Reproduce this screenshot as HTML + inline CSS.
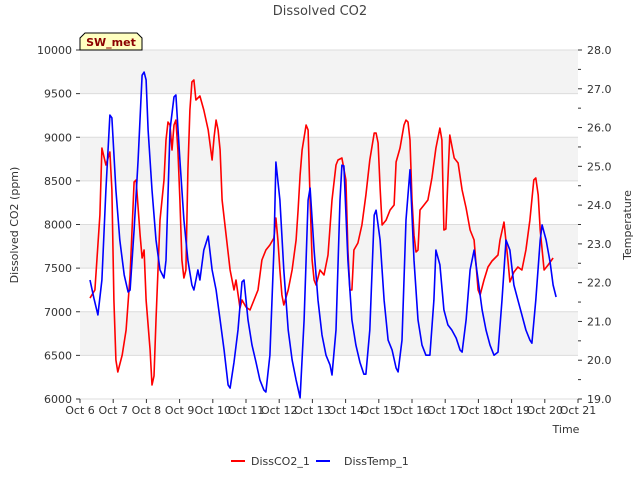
<!DOCTYPE html>
<html><head><meta charset="utf-8"><style>
body{margin:0;background:#fff;font-family:"Liberation Sans","DejaVu Sans",sans-serif}
svg text{font-family:"DejaVu Sans","Liberation Sans",sans-serif}
</style></head><body>
<svg id="chart" width="640" height="480" xmlns="http://www.w3.org/2000/svg">
<rect width="640" height="480" fill="#fff"/>
<g id="bands"></g>
<g id="axes"></g>
<g id="series"></g>
<text x="320" y="15" text-anchor="middle" font-size="13" fill="#444">Dissolved CO2</text>
<text transform="translate(18,225) rotate(-90)" text-anchor="middle" font-size="11" fill="#333">Dissolved CO2 (ppm)</text>
<text transform="translate(631,225) rotate(-90)" text-anchor="middle" font-size="11" fill="#333">Temperature</text>
<text x="566" y="433" text-anchor="middle" font-size="11" fill="#333">Time</text>
<g>
<path d="M80,50 L80,38 L85,33 L137,33 L142,38 L142,50 Z" fill="#ffffc0" stroke="#000" stroke-width="1"/>
<text x="111" y="46" text-anchor="middle" font-size="11" font-weight="bold" fill="#8b0000">SW_met</text>
</g>
<g>
<g><line x1="231" y1="461" x2="245" y2="461" stroke="#f00" stroke-width="2"/><text x="251" y="465" font-size="11" fill="#333">DissCO2_1</text></g>
<g><line x1="316" y1="461" x2="330" y2="461" stroke="#00f" stroke-width="2"/><text x="344" y="465" font-size="11" fill="#333">DissTemp_1</text></g>
</g>
</svg>
<script>
const xTickLabels=["Oct 6","Oct 7","Oct 8","Oct 9","Oct 10","Oct 11","Oct 12","Oct 13","Oct 14","Oct 15","Oct 16","Oct 17","Oct 18","Oct 19","Oct 20","Oct 21"];
const yTicks=[6000,6500,7000,7500,8000,8500,9000,9500,10000];
const y2Ticks=[19,20,21,22,23,24,25,26,27,28];
const co2Days=[0.30,0.45,0.60,0.66,0.78,0.90,0.96,1.02,1.08,1.14,1.27,1.39,1.51,1.63,1.69,1.81,1.87,1.93,1.99,2.11,2.17,2.23,2.29,2.41,2.53,2.59,2.65,2.71,2.77,2.83,2.89,2.95,3.01,3.07,3.13,3.19,3.25,3.31,3.37,3.43,3.49,3.61,3.73,3.86,3.98,4.04,4.10,4.16,4.22,4.28,4.40,4.52,4.64,4.70,4.82,4.88,5.00,5.12,5.24,5.36,5.48,5.60,5.72,5.84,5.90,5.96,6.02,6.08,6.14,6.27,6.39,6.51,6.57,6.63,6.69,6.81,6.87,6.93,6.99,7.05,7.11,7.23,7.35,7.47,7.59,7.71,7.77,7.89,8.01,8.07,8.13,8.19,8.25,8.37,8.49,8.61,8.73,8.86,8.92,8.98,9.04,9.10,9.22,9.34,9.46,9.52,9.64,9.76,9.82,9.88,9.94,10.00,10.06,10.12,10.18,10.24,10.36,10.48,10.60,10.72,10.84,10.90,10.96,11.02,11.08,11.14,11.27,11.39,11.51,11.63,11.75,11.87,11.99,12.05,12.17,12.29,12.41,12.53,12.59,12.65,12.77,12.89,12.95,13.07,13.19,13.31,13.43,13.55,13.67,13.73,13.80,13.86,13.98,14.10,14.25];
const co2Values=[7157,7249,8109,8876,8682,8831,8395,7135,6447,6309,6504,6791,7421,8487,8510,7879,7616,7708,7135,6562,6160,6264,6905,8051,8510,8968,9174,9140,8854,9140,9197,8854,8281,7593,7387,7478,8624,9312,9633,9656,9427,9473,9312,9083,8739,9003,9197,9083,8854,8281,7879,7478,7249,7364,7043,7135,7054,7020,7135,7249,7593,7708,7765,7845,8074,7822,7478,7192,7077,7249,7478,7822,8166,8567,8854,9140,9083,8281,7593,7364,7306,7478,7421,7650,8281,8682,8739,8762,8510,7708,7249,7249,7708,7788,7994,8338,8739,9048,9048,8934,8418,7994,8051,8166,8223,8716,8876,9140,9197,9174,8968,8281,7879,7685,7708,8166,8223,8281,8533,8876,9105,8968,7937,7948,8521,9025,8762,8705,8395,8189,7937,7822,7249,7192,7364,7513,7582,7627,7650,7822,8028,7593,7341,7455,7513,7478,7708,8051,8510,8533,8338,7937,7478,7536,7616];
const tempDays=[0.30,0.42,0.54,0.66,0.78,0.90,0.96,1.08,1.20,1.33,1.45,1.51,1.63,1.75,1.87,1.93,1.99,2.05,2.17,2.29,2.41,2.53,2.59,2.71,2.83,2.89,3.01,3.13,3.25,3.37,3.43,3.55,3.61,3.73,3.86,3.98,4.10,4.22,4.34,4.46,4.52,4.64,4.76,4.88,4.94,5.06,5.18,5.30,5.42,5.54,5.60,5.72,5.84,5.90,6.02,6.14,6.27,6.39,6.51,6.63,6.75,6.87,6.93,7.05,7.17,7.29,7.41,7.53,7.59,7.71,7.83,7.89,7.95,8.07,8.19,8.31,8.43,8.55,8.61,8.73,8.86,8.92,9.04,9.16,9.28,9.40,9.52,9.58,9.70,9.82,9.94,10.06,10.18,10.30,10.42,10.54,10.66,10.72,10.84,10.96,11.08,11.20,11.33,11.45,11.51,11.63,11.75,11.87,11.99,12.11,12.23,12.35,12.47,12.59,12.71,12.83,12.95,13.07,13.19,13.31,13.43,13.55,13.61,13.73,13.86,13.92,14.04,14.16,14.25,14.34];
const tempValues=[22.07,21.60,21.17,22.07,24.39,26.32,26.25,24.39,23.10,22.20,21.76,21.81,23.36,25.16,27.35,27.43,27.23,25.94,24.39,23.10,22.33,22.12,22.58,25.94,26.79,26.84,25.16,23.62,22.58,21.94,21.81,22.33,22.07,22.84,23.20,22.33,21.81,21.04,20.26,19.36,19.28,19.95,20.78,22.02,22.07,21.04,20.39,19.95,19.49,19.23,19.18,20.13,22.84,25.11,24.13,22.33,20.78,20.01,19.49,19.03,21.04,24.13,24.44,22.84,21.55,20.65,20.13,19.88,19.62,20.78,24.13,25.03,25.01,22.58,21.04,20.39,19.95,19.64,19.64,20.78,23.74,23.87,23.10,21.55,20.52,20.26,19.80,19.70,20.52,23.62,24.91,22.58,21.04,20.39,20.13,20.13,21.55,22.84,22.46,21.30,20.91,20.78,20.57,20.26,20.21,21.04,22.33,22.84,22.07,21.30,20.78,20.39,20.13,20.21,21.55,23.10,22.84,21.94,21.55,21.17,20.78,20.52,20.44,21.55,23.10,23.49,23.10,22.53,21.94,21.63];

const L=80,R=578,T=50,B=399;
const xS=d=>L+d*(R-L)/15;
const yS=v=>B-(v-6000)*(B-T)/4000;
const y2S=v=>B-(v-19)*(B-T)/9;
const NS="http://www.w3.org/2000/svg";
function mk(tag,attrs,parent){const e=document.createElementNS(NS,tag);for(const k in attrs)e.setAttribute(k,attrs[k]);parent.appendChild(e);return e;}
const bands=document.getElementById('bands'),axes=document.getElementById('axes'),series=document.getElementById('series');
mk('rect',{x:L,y:T,width:R-L,height:B-T,fill:'#fff'},bands);
for(let i=0;i<yTicks.length-1;i++){
  if(i%2===1){const r=mk('rect',{x:L,y:yS(yTicks[i+1]),width:R-L,height:yS(yTicks[i])-yS(yTicks[i+1]),fill:'#f3f3f3'},bands);
  
  }
}
yTicks.forEach(v=>{
  const g=mk('line',{x1:L,x2:R,y1:yS(v),y2:yS(v),stroke:'#dcdcdc','stroke-width':1},bands);
  
  
  mk('line',{x1:L-4,x2:L,y1:yS(v),y2:yS(v),stroke:'#333'},axes);
  const t=mk('text',{x:L-8,y:yS(v)+4,'text-anchor':'end','font-size':11,fill:'#333'},axes);
  
  
  t.textContent=v;
});
y2Ticks.forEach(v=>{
  mk('line',{x1:R,x2:R+4,y1:y2S(v),y2:y2S(v),stroke:'#333'},axes);
  if(v<28)mk('line',{x1:R,x2:R+3,y1:y2S(v+0.5),y2:y2S(v+0.5),stroke:'#333'},axes);
  const t=mk('text',{x:R+9,y:y2S(v)+4,'font-size':11,fill:'#333'},axes);
  
  
  t.textContent=v.toFixed(1);
});
xTickLabels.forEach((s,i)=>{
  mk('line',{x1:xS(i),x2:xS(i),y1:B,y2:B+4,stroke:'#333'},axes);
  const t=mk('text',{x:xS(i),y:B+15,'text-anchor':'middle','font-size':11,fill:'#333'},axes);
  
  
  t.textContent=s;
});
function line(days,vals,sc,color,name){
  const d=days.map((x,i)=>(i?'L':'M')+xS(x).toFixed(1)+','+sc(vals[i]).toFixed(1)).join('');
  const p=mk('path',{d:d,fill:'none',stroke:color,'stroke-width':1.6,'stroke-linejoin':'round'},series);
  
  
}
line(co2Days,co2Values,yS,'#f00','co2-line');
line(tempDays,tempValues,y2S,'#00f','temp-line');
</script>
</body></html>
